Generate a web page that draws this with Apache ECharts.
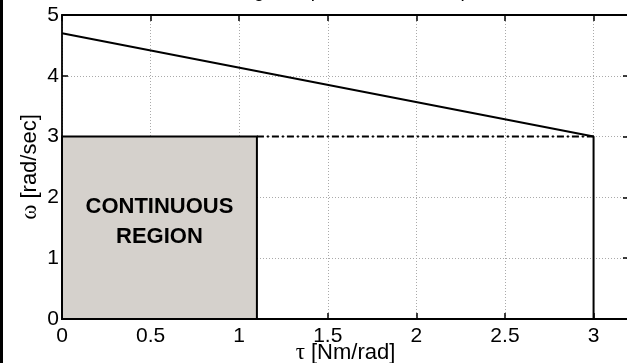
<!DOCTYPE html>
<html>
<head>
<meta charset="UTF-8">
<title>continuous region</title>
<script src="https://cdn.jsdelivr.net/npm/echarts@6/dist/echarts.min.js"></script>
<style>
body { margin: 0; padding: 0; background: #fff; }
#main { width: 627px; height: 363px; }
</style>
</head>
<body>
<div id="main"></div>
<script>
// limit curve: speed falls with stiffness, then drops at tau = 3
var envelopeTau = [0, 3, 3];
var envelopeOmega = [4.7, 3, 0];
// dash-dot line at omega = 3
var dashTau = [1.1, 3];
var dashOmega = [3, 3];
// continuous region box
var regionTau = [0, 1.1];
var regionOmega = [0, 3];

var xTicks = [0, 0.5, 1, 1.5, 2, 2.5, 3];
var yTicks = [0, 1, 2, 3, 4, 5];

function pairs(xs, ys) {
    var out = [];
    for (var i = 0; i < xs.length; i++) out.push([xs[i], ys[i]]);
    return out;
}

var chart = echarts.init(document.getElementById('main'));
var font = '"Liberation Sans", Arial, Helvetica, sans-serif';

var axisBase = {
    type: 'value',
    axisLine: { show: true, onZero: false, lineStyle: { color: '#000', width: 1.8 } },
    axisTick: { show: true, inside: true, length: 6, lineStyle: { color: '#000', width: 1.5 } },
    splitLine: { show: false }
};

chart.setOption({
    animation: false,
    grid: { left: 62, top: 15, width: 567, height: 304, outerBoundsMode: 'none' },
    graphic: [
        { type: 'rect', shape: { x: 0, y: 0, width: 3, height: 363 }, style: { fill: '#000' } },
        { type: 'text', x: 345, y: 1, style: {
            text: 'Range of speed-stiffness map', textAlign: 'center', textVerticalAlign: 'bottom',
            font: '19px ' + font, fill: '#000' } }
    ],
    xAxis: [
        Object.assign({}, axisBase, {
            min: 0, max: 3.2, interval: 0.5, position: 'bottom',
            axisLabel: { color: '#000', fontSize: 21, fontFamily: font, margin: 7,
                formatter: function (v) { return xTicks.indexOf(v) >= 0 ? String(v) : ''; } },
            splitLine: { show: true, lineStyle: { color: '#aaa', type: [1, 2], width: 1 } },
            name: '{s|τ} [Nm/rad]', nameLocation: 'middle', nameGap: 22, nameMoveOverlap: false,
            nameTextStyle: { color: '#000', fontSize: 22, fontFamily: font,
                rich: { s: { fontFamily: '"Liberation Serif", serif', fontSize: 23, color: '#000' } } }
        }),
        Object.assign({}, axisBase, {
            min: 0, max: 3.2, interval: 0.5, position: 'top',
            axisLabel: { show: false }
        })
    ],
    yAxis: [
        Object.assign({}, axisBase, {
            min: 0, max: 5, interval: 1, position: 'left',
            axisLabel: { color: '#000', fontSize: 21, fontFamily: font, margin: 3,
                padding: [0, 0, 6, 0],
                formatter: function (v) { return yTicks.indexOf(v) >= 0 ? String(v) : ''; } },
            splitLine: { show: true, lineStyle: { color: '#aaa', type: [1, 2], width: 1 } },
            name: '{s|ω} [rad/sec]', nameLocation: 'middle', nameGap: 21, nameMoveOverlap: false,
            nameTextStyle: { color: '#000', fontSize: 22, fontFamily: font,
                rich: { s: { fontFamily: '"Liberation Serif", serif', fontSize: 23, color: '#000' } } }
        }),
        Object.assign({}, axisBase, {
            min: 0, max: 5, interval: 1, position: 'right',
            axisLabel: { show: false }
        })
    ],
    series: [
        {
            type: 'line',
            data: pairs(dashTau, dashOmega),
            symbol: 'none',
            lineStyle: { color: '#000', width: 2, type: [7, 3, 2, 3] },
            z: 3,
            markArea: {
                silent: true,
                itemStyle: { color: '#d5d1cc', borderColor: '#000', borderWidth: 2 },
                label: {
                    show: true, position: 'inside', offset: [0, -6],
                    formatter: 'CONTINUOUS\nREGION',
                    color: '#000', fontSize: 22, fontWeight: 'bold', fontFamily: font,
                    lineHeight: 30, align: 'center'
                },
                data: [[
                    { coord: [regionTau[0], regionOmega[0]] },
                    { coord: [regionTau[1], regionOmega[1]] }
                ]]
            }
        },
        {
            type: 'line',
            data: pairs(envelopeTau, envelopeOmega),
            symbol: 'none',
            lineStyle: { color: '#000', width: 2 },
            z: 4
        }
    ]
});
</script>
</body>
</html>
